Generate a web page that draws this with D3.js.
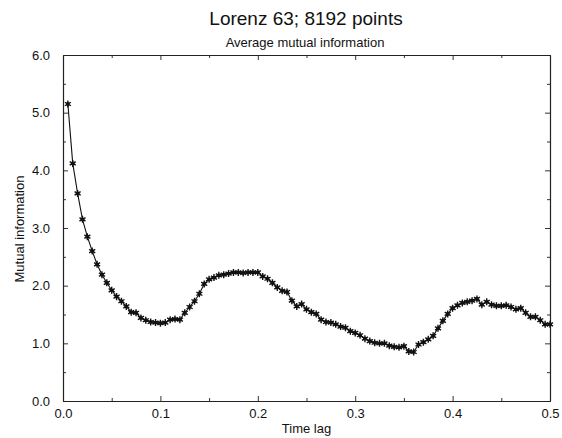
<!DOCTYPE html>
<html>
<head>
<meta charset="utf-8">
<script src="https://cdn.jsdelivr.net/npm/d3@7"></script>
<style>
  body { margin: 0; background: #fff; }
  text { font-family: "Liberation Sans", Arial, sans-serif; fill: #111; }
</style>
</head>
<body>
<div id="chart"></div>
<script>
// time lag step and mutual information values
var lagStep = 0.005;
var mutualInfo = [
  5.15, 4.12, 3.60, 3.15, 2.85, 2.60, 2.37, 2.19, 2.05, 1.92,
  1.81, 1.73, 1.64, 1.54, 1.53, 1.44, 1.40, 1.37, 1.36, 1.35,
  1.36, 1.41, 1.42, 1.41, 1.53, 1.63, 1.73, 1.86, 2.03, 2.11,
  2.14, 2.18, 2.19, 2.21, 2.23, 2.23, 2.22, 2.23, 2.23, 2.23,
  2.16, 2.12, 2.05, 1.97, 1.91, 1.89, 1.74, 1.64, 1.68, 1.59,
  1.54, 1.51, 1.41, 1.37, 1.36, 1.33, 1.29, 1.27, 1.21, 1.18,
  1.14, 1.08, 1.04, 1.01, 1.00, 1.00, 0.96, 0.94, 0.93, 0.95,
  0.86, 0.85, 0.98, 1.02, 1.07, 1.13, 1.26, 1.39, 1.51, 1.61,
  1.66, 1.70, 1.72, 1.74, 1.77, 1.67, 1.72, 1.67, 1.65, 1.65,
  1.66, 1.63, 1.59, 1.61, 1.53, 1.46, 1.46, 1.40, 1.33, 1.33
];
var lags = mutualInfo.map(function(d, i) { return +(lagStep * (i + 1)).toFixed(3); });
var xTicks = [0, 0.1, 0.2, 0.3, 0.4, 0.5];
var xMinor = [0.05, 0.15, 0.25, 0.35, 0.45];
var yTicks = [0, 1, 2, 3, 4, 5, 6];
var yMinor = [0.5, 1.5, 2.5, 3.5, 4.5, 5.5];

var width = 562, height = 438;
var margin = {top: 55, right: 12, bottom: 37, left: 63};

var svg = d3.select("#chart").append("svg")
  .attr("width", width)
  .attr("height", height);

var w = width - margin.left - margin.right,
    h = height - margin.top - margin.bottom;

var g = svg.append("g").attr("transform", "translate(" + margin.left + "," + margin.top + ")");

var x = d3.scaleLinear().domain([0, 0.5]).range([0, w]);
var y = d3.scaleLinear().domain([0, 6]).range([h, 0]);

var fmt = d3.format(".1f");

// frame with inward ticks on all sides
function tickAxis(axisFn, scale, vals, size, showLabels) {
  return axisFn(scale).tickValues(vals).tickSizeInner(-size).tickSizeOuter(0)
    .tickFormat(showLabels ? fmt : "");
}

var bottom = g.append("g").attr("transform", "translate(0," + h + ")")
  .call(tickAxis(d3.axisBottom, x, xTicks, 5, true));
g.append("g").call(tickAxis(d3.axisTop, x, xTicks, 5, false));
var left = g.append("g").call(tickAxis(d3.axisLeft, y, yTicks, 5, true));
g.append("g").attr("transform", "translate(" + w + ",0)")
  .call(tickAxis(d3.axisRight, y, yTicks, 5, false));

// minor ticks
g.append("g").attr("transform", "translate(0," + h + ")")
  .call(tickAxis(d3.axisBottom, x, xMinor, 3, false));
g.append("g").call(tickAxis(d3.axisTop, x, xMinor, 3, false));
g.append("g").call(tickAxis(d3.axisLeft, y, yMinor, 3, false));
g.append("g").attr("transform", "translate(" + w + ",0)")
  .call(tickAxis(d3.axisRight, y, yMinor, 3, false));

g.selectAll(".domain").attr("stroke", "#222").attr("stroke-width", 1.1);
g.selectAll(".tick line").attr("stroke", "#333");
g.selectAll(".tick text").style("font-size", "13px").attr("fill", "#111");
bottom.selectAll(".tick text").attr("dy", "1.05em").attr("y", 3);
left.selectAll(".tick text").attr("x", -13);

// data line
var line = d3.line()
  .x(function(d, i) { return x(lags[i]); })
  .y(function(d) { return y(d); });

g.append("path")
  .datum(mutualInfo)
  .attr("fill", "none")
  .attr("stroke", "#111")
  .attr("stroke-width", 1.1)
  .attr("d", line);

// asterisk markers
var marker = d3.symbol().type(d3.symbolAsterisk).size(34);
var pts = g.selectAll(".pt")
  .data(mutualInfo)
  .enter().append("g")
  .attr("class", "pt")
  .attr("transform", function(d, i) { return "translate(" + x(lags[i]) + "," + y(d) + ")"; });
pts.append("path")
  .attr("d", marker)
  .attr("fill", "none")
  .attr("stroke", "#111")
  .attr("stroke-width", 1.4);
pts.append("circle")
  .attr("r", 1.9)
  .attr("fill", "#111");

// titles
svg.append("text")
  .attr("x", 306).attr("y", 25)
  .attr("text-anchor", "middle")
  .style("font-size", "19px")
  .text("Lorenz 63; 8192 points");

svg.append("text")
  .attr("x", 305).attr("y", 47)
  .attr("text-anchor", "middle")
  .style("font-size", "13px")
  .text("Average mutual information");

svg.append("text")
  .attr("x", margin.left + x(0.25)).attr("y", 433)
  .attr("text-anchor", "middle")
  .style("font-size", "13px")
  .text("Time lag");

svg.append("text")
  .attr("transform", "translate(24," + 229 + ") rotate(-90)")
  .attr("text-anchor", "middle")
  .style("font-size", "13px")
  .text("Mutual information");
</script>
</body>
</html>
